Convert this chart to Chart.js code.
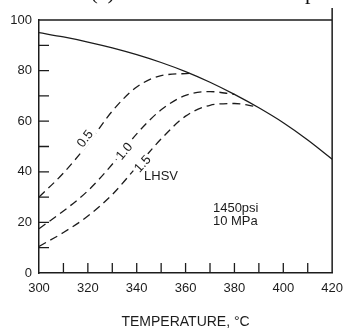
<!DOCTYPE html>
<html><head><meta charset="utf-8">
<script src="https://cdn.jsdelivr.net/npm/chart.js@4/dist/chart.umd.min.js"></script>
<style>
html,body{margin:0;padding:0;background:#fff;overflow:hidden}
#wrap{position:relative;width:351px;height:335px;overflow:hidden}
#top{position:absolute;left:-3px;top:-19px;font:22px/22px "Liberation Serif",serif;white-space:nowrap;color:#111}
canvas{position:absolute;left:0;top:0}
</style></head>
<body><div id="wrap"><canvas id="c" width="351" height="335"></canvas><div id="top">unit. Give (a) Unit name and main p</div></div>
<script>
// Temperature (°C) and conversion (%)
const tempEq  = [300, 310, 320, 330, 340, 350, 360, 370, 380, 390, 400, 410, 420];
const convEq  = [95, 93.3, 91.3, 89, 86.3, 83.2, 79.6, 75.4, 70.6, 65.3, 59.4, 52.6, 45];

const temp05 = [300, 310, 320, 330, 340, 350, 362];
const conv05 = [30, 39.5, 51, 64, 73.5, 78, 78.9];

const temp10 = [300, 310, 320, 330, 340, 350, 360, 370, 380];
const conv10 = [17.5, 24.5, 32.5, 43, 55, 64.5, 70.2, 71.7, 70.6];

const temp15 = [300, 310, 320, 330, 340, 350, 360, 370, 380, 389];
const conv15 = [10.5, 16, 22.5, 31, 42, 53, 62, 66.3, 67, 65.8];

const xTicksLabeled = [300, 320, 340, 360, 380, 400, 420];
const yTicksLabeled = [0, 20, 40, 60, 80, 100];

const curveLabels = [
  {text: '0.5', x: 319, y: 53, rot: -52},
  {text: '1.0', x: 335, y: 48, rot: -50},
  {text: '1.5', x: 342.5, y: 43, rot: -48}
];
const notes = [
  {text: 'LHSV', x: 343, y: 38.3},
  {text: '1450psi', x: 371.2, y: 25.7},
  {text: '10 MPa', x: 371.2, y: 20.2}
];

const ink = '#1c1c1c';
const pts = (xs, ys) => xs.map((x, i) => ({x, y: ys[i]}));

const decor = {
  id: 'decor',
  afterDraw(chart) {
    const {ctx, chartArea: a, scales: {x, y}} = chart;
    ctx.save();
    ctx.strokeStyle = ink;
    ctx.lineWidth = 1.5;
    ctx.beginPath();
    ctx.moveTo(a.left, a.top);
    ctx.lineTo(a.right, a.top);
    ctx.moveTo(a.right, a.top - 12);
    ctx.lineTo(a.right, a.bottom);
    ctx.stroke();
    ctx.lineWidth = 1.3;
    ctx.beginPath();
    x.ticks.forEach(t => {
      const px = x.getPixelForValue(t.value);
      if (t.value > x.min && t.value < x.max) { ctx.moveTo(px, a.bottom); ctx.lineTo(px, a.bottom - 10); }
    });
    y.ticks.forEach(t => {
      const py = y.getPixelForValue(t.value);
      if (t.value > y.min && t.value < y.max) { ctx.moveTo(a.left, py); ctx.lineTo(a.left + 10, py); }
    });
    ctx.stroke();
    ctx.font = '13px "Liberation Sans", sans-serif';
    ctx.textAlign = 'center';
    ctx.textBaseline = 'middle';
    curveLabels.forEach(l => {
      const px = x.getPixelForValue(l.x), py = y.getPixelForValue(l.y);
      ctx.save();
      ctx.translate(px, py);
      ctx.rotate(l.rot * Math.PI / 180);
      const w = ctx.measureText(l.text).width;
      ctx.fillStyle = '#fff';
      ctx.fillRect(-w / 2 - 2, -6, w + 4, 12);
      ctx.fillStyle = ink;
      ctx.fillText(l.text, 0, 0);
      ctx.restore();
    });
    ctx.font = '13px "Liberation Sans", sans-serif';
    ctx.textAlign = 'left';
    ctx.fillStyle = ink;
    notes.forEach(n => {
      ctx.fillText(n.text, x.getPixelForValue(n.x), y.getPixelForValue(n.y));
    });
    ctx.restore();
  }
};

const lineBase = {borderColor: ink, borderWidth: 1.3, pointRadius: 0, fill: false, cubicInterpolationMode: 'monotone'};

new Chart(document.getElementById('c'), {
  type: 'line',
  data: {
    datasets: [
      Object.assign({label: 'Equilibrium', data: pts(tempEq, convEq)}, lineBase),
      Object.assign({label: 'LHSV 0.5', data: pts(temp05, conv05), borderDash: [8, 5]}, lineBase),
      Object.assign({label: 'LHSV 1.0', data: pts(temp10, conv10), borderDash: [8, 5]}, lineBase),
      Object.assign({label: 'LHSV 1.5', data: pts(temp15, conv15), borderDash: [8, 5]}, lineBase)
    ]
  },
  options: {
    responsive: false,
    animation: false,
    layout: {padding: {top: 20, right: 11, left: 0, bottom: 0}},
    plugins: {legend: {display: false}, tooltip: {enabled: false}},
    scales: {
      x: {
        type: 'linear', min: 300, max: 420,
        grid: {display: false, drawTicks: false},
        border: {color: ink, width: 1.5},
        ticks: {stepSize: 10, autoSkip: false, maxRotation: 0, color: ink, padding: 8,
          font: {family: '"Liberation Sans", sans-serif', size: 13},
          callback: v => xTicksLabeled.includes(v) ? String(v) : ''},
        title: {display: true, text: 'TEMPERATURE, °C', color: ink,
          font: {family: '"Liberation Sans", sans-serif', size: 14}, padding: {top: 0, bottom: 4}},
        afterFit: s => { s.height = 62; }
      },
      y: {
        min: 0, max: 100,
        grid: {display: false, drawTicks: false},
        border: {color: ink, width: 1.5},
        ticks: {stepSize: 10, autoSkip: false, color: ink, padding: 7,
          font: {family: '"Liberation Sans", sans-serif', size: 13},
          callback: v => yTicksLabeled.includes(v) ? String(v) : ''},
        afterFit: s => { s.width = 39; }
      }
    }
  },
  plugins: [decor]
});
</script>
</body></html>
